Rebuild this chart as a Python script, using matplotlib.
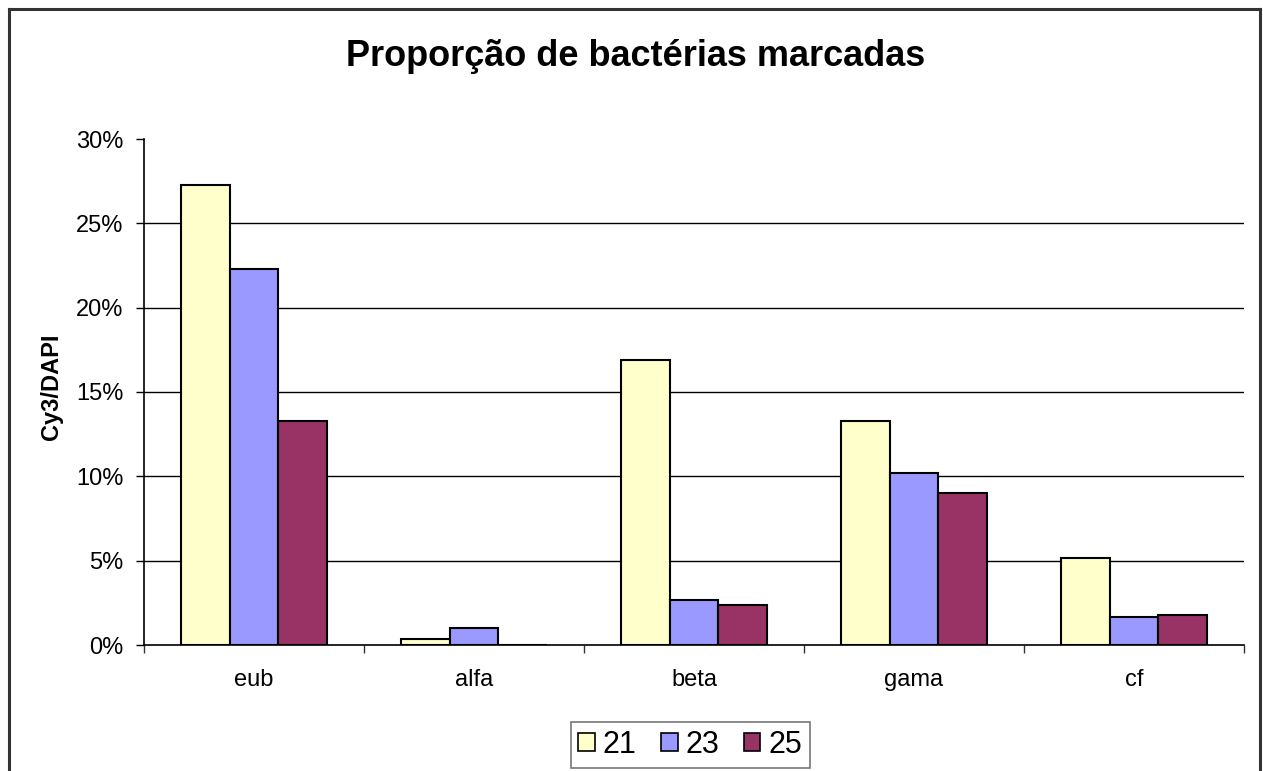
import numpy as np
import matplotlib
matplotlib.use("Agg")
import matplotlib.pyplot as plt
from matplotlib.lines import Line2D
from matplotlib.patches import Patch
from matplotlib.ticker import PercentFormatter, FixedLocator

plt.rcParams['font.family'] = ['Liberation Sans', 'DejaVu Sans']

# ------ data ------
categories = ['eub', 'alfa', 'beta', 'gama', 'cf']
series_names = ['21', '23', '25']
vals_21 = [27.3, 0.35, 16.9, 13.3, 5.15]
vals_23 = [22.3, 1.0, 2.65, 10.2, 1.65]
vals_25 = [13.3, 0.0, 2.4, 9.0, 1.75]
colors = ['#FFFFCC', '#9999FF', '#993366']

W, H = 1263, 771
fig = plt.figure(figsize=(W / 100, H / 100), dpi=100)
ax = fig.add_axes([144 / W, 1 - 645 / H, 1100 / W, 506 / H])

x = np.arange(len(categories))
bw = 1 / 4.5  # excel gap width 150%
for i, (vals, c) in enumerate(zip([vals_21, vals_23, vals_25], colors)):
    ax.bar(x + (i - 1) * bw, vals, width=bw, color=c, edgecolor='black',
           linewidth=1.5, zorder=3)

ax.set_xlim(-0.5, len(categories) - 0.5)
ax.set_ylim(0, 30)
ax.set_yticks(np.arange(0, 31, 5))
ax.yaxis.set_major_formatter(PercentFormatter(decimals=0))
# gridlines everywhere except the top tick
for yv in np.arange(5, 30, 5):
    ax.axhline(yv, color='black', linewidth=1.0, zorder=0)

ax.xaxis.set_major_locator(FixedLocator(np.arange(-0.5, len(categories), 1)))
ax.set_xticklabels([])
ax.tick_params(axis='x', direction='out', length=6, width=1, color='#333333')
ax.tick_params(axis='y', direction='out', length=6, width=1, labelsize=17,
               pad=9)
for xi, lab in zip(x, categories):
    ax.text(xi, -2.05, lab, ha='center', va='center', fontsize=17)

for s in ['top', 'right']:
    ax.spines[s].set_visible(False)
for s in ['left', 'bottom']:
    ax.spines[s].set_linewidth(1.2)

fig.text(52 / W, 1 - 387 / H, 'Cy3/DAPI', rotation=90, ha='center',
         va='center', fontsize=17, fontweight='bold')
fig.text(636 / W, 1 - 56 / H, 'Proporção de bactérias marcadas',
         ha='center', va='center', fontsize=26, fontweight='bold')

handles = [Patch(facecolor=c, edgecolor='black', linewidth=1.2) for c in colors]
leg = fig.legend(handles, series_names, loc='center', ncol=3,
                 bbox_to_anchor=(690 / W, 1 - 745 / H), fontsize=22,
                 frameon=True, fancybox=False, handlelength=0.55,
                 handleheight=0.55, handletextpad=0.25, columnspacing=0.8,
                 borderpad=0.25)
leg.get_frame().set_edgecolor('#555555')
leg.get_frame().set_linewidth(1.2)

# outer chart border (no bottom edge visible)
bc = '#333333'
fig.add_artist(Line2D([9 / W, 9 / W], [-0.01, 1 - 9 / H], color=bc, lw=2.2))
fig.add_artist(Line2D([9 / W, 1260 / W], [1 - 9 / H, 1 - 9 / H], color=bc, lw=2.2))
fig.add_artist(Line2D([1260 / W, 1260 / W], [-0.01, 1 - 9 / H], color=bc, lw=2.2))

fig.savefig('out.png', dpi=100)
